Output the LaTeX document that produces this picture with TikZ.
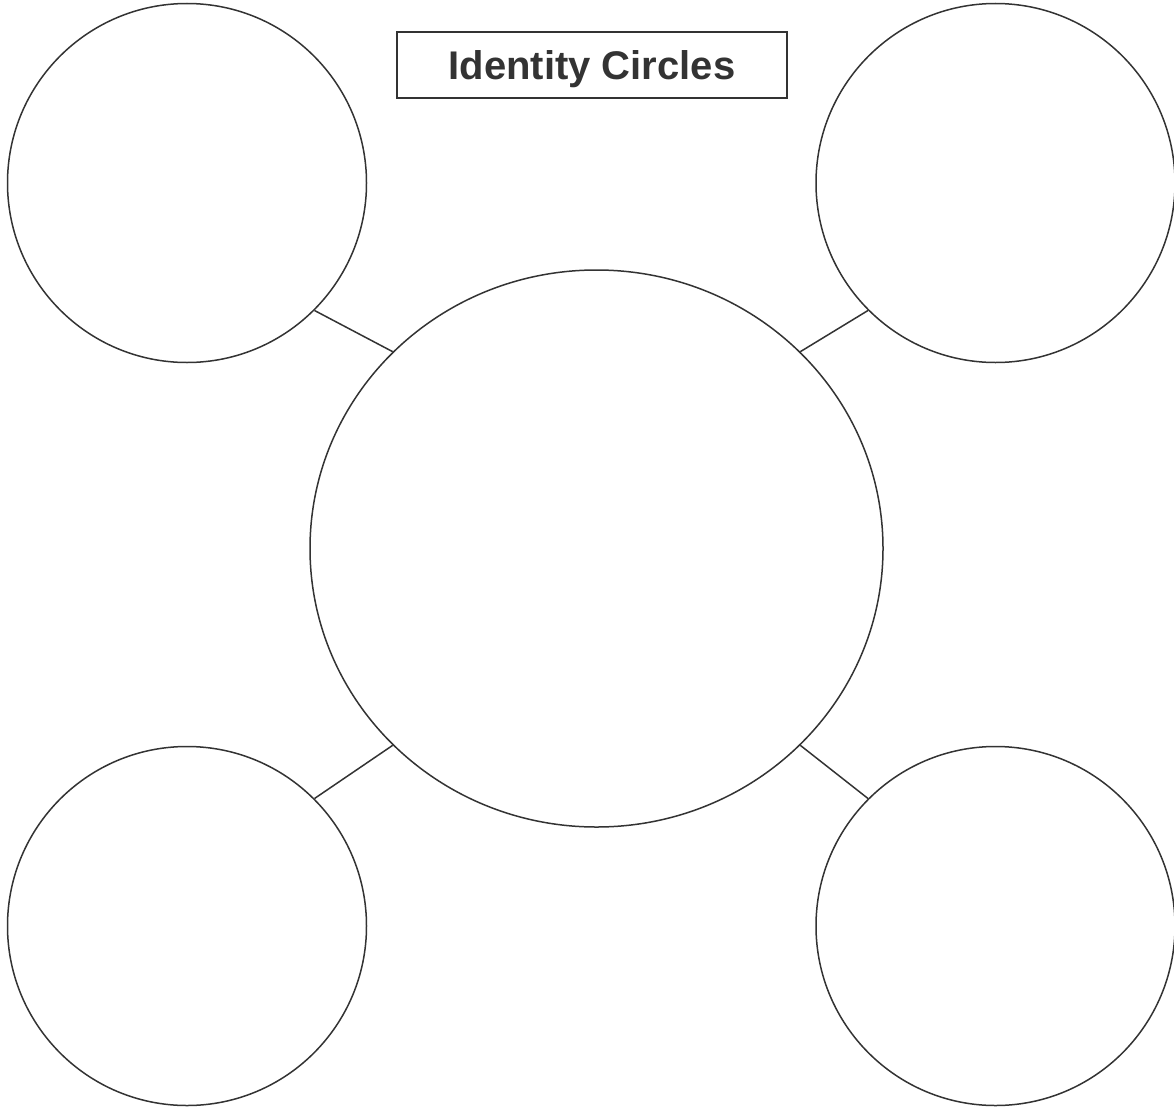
\documentclass[tikz,border=0pt]{standalone}
\usepackage{fontspec}
\setmainfont{Liberation Sans}
\usetikzlibrary{shapes.geometric}
\definecolor{ink}{HTML}{333333}
\begin{document}
\begin{tikzpicture}[x=1pt,y=-1pt,
  ring/.style={draw=ink,line width=1.5pt,circle,minimum size=359pt,inner sep=0pt},
  hub/.style={draw=ink,line width=1.5pt,ellipse,minimum width=573pt,minimum height=557pt,inner sep=0pt},
  link/.style={draw=ink,line width=1.5pt},
  titlebox/.style={draw=ink,line width=1.5pt,minimum width=390pt,minimum height=66pt,inner sep=0pt,text=ink},
  titletext/.style={inner sep=0pt,font=\bfseries\fontsize{40}{48}\selectfont,text=ink,anchor=base}]
\useasboundingbox (0,0) rectangle (1174,1108);
\node[hub] (c) at (596.5,548.5) {};
\node[ring] (tl) at (187,183) {};
\node[ring] (tr) at (995.5,183) {};
\node[ring] (bl) at (187,926) {};
\node[ring] (br) at (995.5,926) {};
\node[titlebox] (title) at (592,65) {};
\node[titletext] (titlelabel) at (592,79) {Identity Circles};
\draw[link] (tl.-45) -- (c.136);
\draw[link] (tr.225) -- (c.44);
\draw[link] (bl.45) -- (c.224);
\draw[link] (br.135) -- (c.-44);
\end{tikzpicture}
\end{document}
